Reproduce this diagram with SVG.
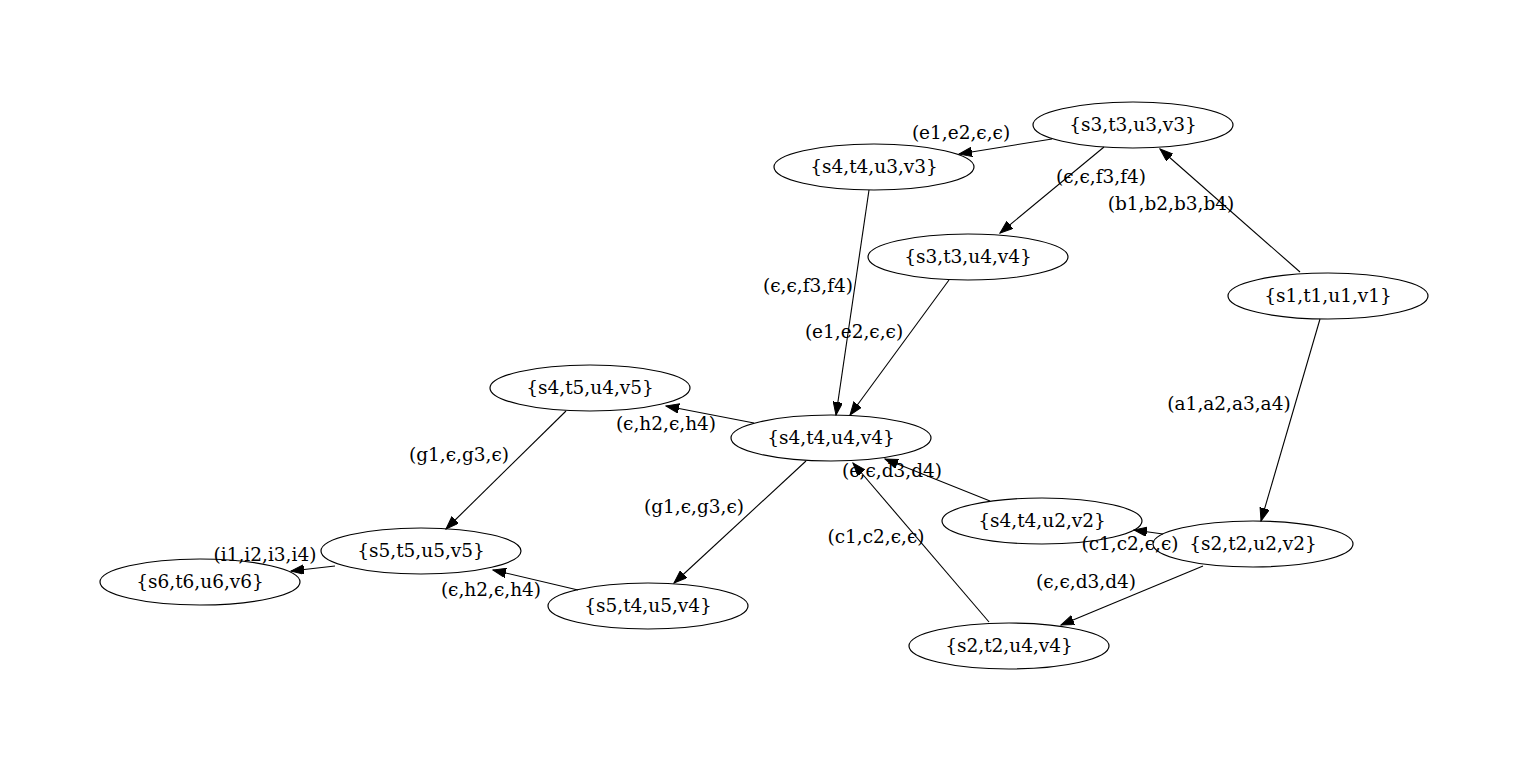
<svg xmlns="http://www.w3.org/2000/svg" width="1529" height="772" viewBox="0 0 1529 772">
<style>
.n ellipse{fill:none;stroke:#000;stroke-width:1.2}
text{font-family:"DejaVu Serif","Liberation Serif",serif;font-size:18.5px;fill:#000;text-anchor:middle}
.e line{stroke:#000;stroke-width:1.1;marker-end:url(#ah)}
</style>
<defs>
<marker id="ah" markerUnits="userSpaceOnUse" markerWidth="14" markerHeight="10" refX="13" refY="4.75" orient="auto" viewBox="0 0 14 10">
<path d="M0,0 L13,4.75 L0,9.5 z" fill="#000" stroke="#000" stroke-width="1"/>
</marker>
</defs>
<rect width="1529" height="772" fill="#fff"/>
<g id="edges" class="e">
<line x1="1052" y1="139" x2="959" y2="154"/>
<line x1="1104" y1="147" x2="1000" y2="233"/>
<line x1="1300" y1="272" x2="1160" y2="149"/>
<line x1="869" y1="190" x2="836" y2="415"/>
<line x1="949" y1="280" x2="850" y2="415"/>
<line x1="1320" y1="319" x2="1261" y2="521"/>
<line x1="754" y1="423" x2="666" y2="406"/>
<line x1="566" y1="411" x2="446" y2="529"/>
<line x1="806" y1="461" x2="674" y2="583"/>
<line x1="578" y1="590" x2="493" y2="570"/>
<line x1="335" y1="566" x2="291" y2="571"/>
<line x1="990" y1="501" x2="885" y2="459"/>
<line x1="989" y1="622" x2="853" y2="463"/>
<line x1="1163" y1="534" x2="1134" y2="530"/>
<line x1="1203" y1="566" x2="1061" y2="625"/>
</g>
<g id="edge-labels">
<text x="961" y="139">(e1,e2,ϵ,ϵ)</text>
<text x="1101" y="183">(ϵ,ϵ,f3,f4)</text>
<text x="1171" y="210">(b1,b2,b3,b4)</text>
<text x="808" y="292">(ϵ,ϵ,f3,f4)</text>
<text x="854" y="338">(e1,e2,ϵ,ϵ)</text>
<text x="1229" y="410">(a1,a2,a3,a4)</text>
<text x="666" y="430">(ϵ,h2,ϵ,h4)</text>
<text x="459" y="461">(g1,ϵ,g3,ϵ)</text>
<text x="694" y="513">(g1,ϵ,g3,ϵ)</text>
<text x="491" y="596">(ϵ,h2,ϵ,h4)</text>
<text x="265" y="561">(i1,i2,i3,i4)</text>
<text x="892" y="477">(ϵ,ϵ,d3,d4)</text>
<text x="876" y="543">(c1,c2,ϵ,ϵ)</text>
<text x="1130" y="550">(c1,c2,ϵ,ϵ)</text>
<text x="1086" y="588">(ϵ,ϵ,d3,d4)</text>
</g>
<g id="s3t3u3v3" class="n"><ellipse cx="1133" cy="125" rx="100" ry="23"/><text x="1133" y="131">{s3,t3,u3,v3}</text></g>
<g id="s4t4u3v3" class="n"><ellipse cx="874" cy="167" rx="100" ry="23"/><text x="874" y="173">{s4,t4,u3,v3}</text></g>
<g id="s3t3u4v4" class="n"><ellipse cx="968" cy="257" rx="100" ry="23"/><text x="968" y="263">{s3,t3,u4,v4}</text></g>
<g id="s1t1u1v1" class="n"><ellipse cx="1328" cy="296" rx="100" ry="23"/><text x="1328" y="302">{s1,t1,u1,v1}</text></g>
<g id="s4t5u4v5" class="n"><ellipse cx="590" cy="388" rx="100" ry="23"/><text x="590" y="394">{s4,t5,u4,v5}</text></g>
<g id="s4t4u4v4" class="n"><ellipse cx="831" cy="438" rx="100" ry="23"/><text x="831" y="444">{s4,t4,u4,v4}</text></g>
<g id="s5t5u5v5" class="n"><ellipse cx="421" cy="551" rx="100" ry="23"/><text x="421" y="557">{s5,t5,u5,v5}</text></g>
<g id="s6t6u6v6" class="n"><ellipse cx="200" cy="582" rx="100" ry="23"/><text x="200" y="588">{s6,t6,u6,v6}</text></g>
<g id="s5t4u5v4" class="n"><ellipse cx="648" cy="606" rx="100" ry="23"/><text x="648" y="612">{s5,t4,u5,v4}</text></g>
<g id="s4t4u2v2" class="n"><ellipse cx="1042" cy="521" rx="100" ry="23"/><text x="1042" y="527">{s4,t4,u2,v2}</text></g>
<g id="s2t2u2v2" class="n"><ellipse cx="1253" cy="544" rx="100" ry="23"/><text x="1253" y="550">{s2,t2,u2,v2}</text></g>
<g id="s2t2u4v4" class="n"><ellipse cx="1009" cy="646" rx="100" ry="23"/><text x="1009" y="652">{s2,t2,u4,v4}</text></g>
</svg>
